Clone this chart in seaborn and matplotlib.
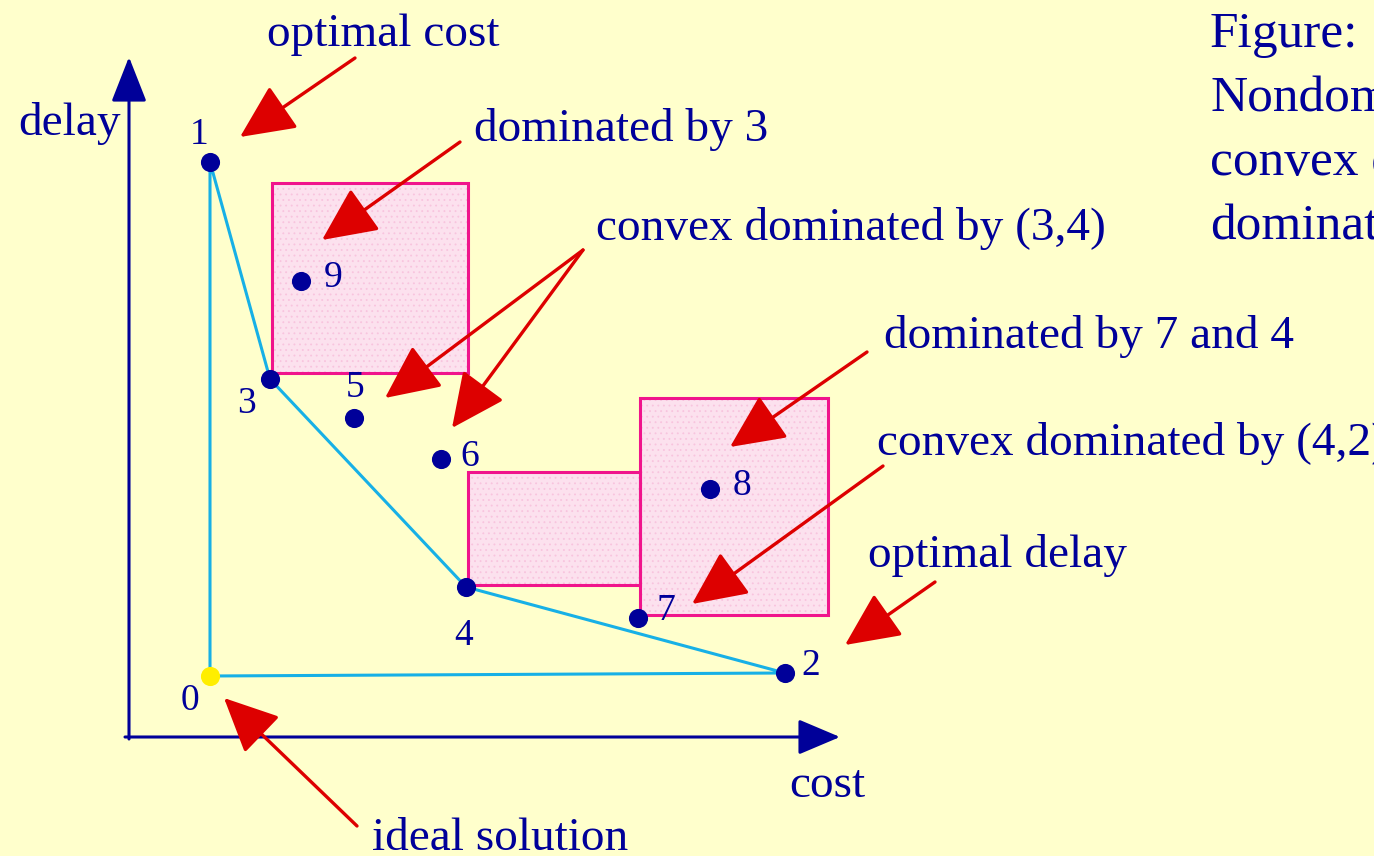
import matplotlib.pyplot as plt
import matplotlib.patches as mpatches
import pandas as pd
import seaborn as sns

# solutions in (cost, delay) units, origin at the axes crossing
labels = ["0", "1", "2", "3", "4", "5", "6", "7", "8", "9"]
cost = [81, 81, 656, 141, 337, 225, 312, 509, 581, 172]
delay = [61, 575, 64, 358, 150, 319, 278, 119, 248, 456]

# convex hull of the nondominated set: 0-1-3-4-2-0
hull = ["0", "1", "3", "4", "2", "0"]

# dominance boxes: (cost_lo, cost_hi, delay_lo, delay_hi)
boxes = [(143, 339, 364, 554), (339, 511, 152, 265), (511, 699, 122, 339)]

BG = "#FFFFCC"
BLUE = "#000099"
RED = "#DD0000"
CYAN = "#17B0E6"
PINK = "#F0148C"

W, H = 1374, 856
OX, OY = 129, 737


def px(x, y):
    # figure pixel (from top-left) -> data units
    return x - OX, OY - y


sns.set_theme(style="white")
plt.rcParams["font.family"] = ["Liberation Serif", "DejaVu Serif"]
plt.rcParams["hatch.color"] = "#F8C4DE"
plt.rcParams["hatch.linewidth"] = 0.6

fig = plt.figure(figsize=(W / 100, H / 100), dpi=100)
fig.set_facecolor(BG)
ax = fig.add_axes([0, 0, 1, 1])
ax.set_facecolor(BG)

# dominance boxes
for c0, c1, d0, d1 in boxes:
    ax.add_patch(mpatches.Rectangle((c0, d0), c1 - c0, d1 - d0,
                                    facecolor="#FCE1EE", edgecolor="#F8C4DE",
                                    hatch="...", lw=0, zorder=1))
    ax.add_patch(mpatches.Rectangle((c0, d0), c1 - c0, d1 - d0,
                                    facecolor="none", edgecolor=PINK,
                                    lw=2.2, zorder=1.5))

df = pd.DataFrame({"label": labels, "cost": cost, "delay": delay})
hull_df = df.set_index("label").loc[hull].reset_index()

sns.lineplot(hull_df, x="cost", y="delay", sort=False, estimator=None,
             color=CYAN, lw=2.2, ax=ax, zorder=2)
sns.scatterplot(df[df.label != "0"], x="cost", y="delay", color=BLUE,
                s=190, linewidth=0, ax=ax, zorder=3)
sns.scatterplot(df[df.label == "0"], x="cost", y="delay", color="#FFEE00",
                s=190, linewidth=0, ax=ax, zorder=3)
ax.set_xlim(-OX, W - OX)
ax.set_ylim(OY - H, OY)
ax.axis("off")

# cost / delay axes with arrow heads
ax.annotate("", xy=px(129, 57), xytext=px(129, 739),
            arrowprops=dict(arrowstyle="-|>,head_length=1.4,head_width=0.55",
                            mutation_scale=20, lw=2.2, color=BLUE,
                            shrinkA=0, shrinkB=0))
ax.annotate("", xy=px(840, 737), xytext=px(125, 737),
            arrowprops=dict(arrowstyle="-|>,head_length=1.3,head_width=0.55",
                            mutation_scale=20, lw=2.2, color=BLUE,
                            shrinkA=0, shrinkB=0))

# point numbers
num_pos = {"0": (190, 710), "1": (199, 144), "2": (811, 675), "3": (246, 413),
           "4": (464, 645), "5": (355, 397), "6": (470, 466), "7": (666, 620),
           "8": (742, 495), "9": (333, 287)}
for lab, (x, y) in num_pos.items():
    ax.text(*px(x, y), lab, color=BLUE, fontsize=27, ha="center",
            va="baseline", zorder=4)

# annotation texts
notes = [
    ("optimal cost", 267, 46),
    ("dominated by 3", 474, 141),
    ("convex dominated by (3,4)", 596, 240),
    ("dominated by 7 and 4", 884, 348),
    ("convex dominated by (4,2)", 877, 455),
    ("optimal delay", 868, 567),
    ("ideal solution", 372, 850),
    ("delay", 18, 135),
    ("cost", 789, 797),
]
for s, x, y in notes:
    ax.text(*px(x, y), s, color=BLUE, fontsize=34, ha="left", va="baseline")

caption = ["Figure:", "Nondominated,", "convex dominated,", "dominated"]
for i, s in enumerate(caption):
    ax.text(*px(1210, 47 + 64 * i), s, color=BLUE, fontsize=37,
            ha="left", va="baseline")

# red arrows: (tail, tip)
arrows = [
    ((355, 58), (240, 137)),
    ((460, 142), (322, 240)),
    ((583, 250), (385, 398)),
    ((583, 250), (452, 428)),
    ((867, 352), (730, 447)),
    ((883, 466), (692, 604)),
    ((935, 582), (845, 645)),
    ((357, 826), (224, 698)),
]
for tail, tip in arrows:
    ax.annotate("", xy=px(*tip), xytext=px(*tail),
                arrowprops=dict(arrowstyle="-|>,head_length=1.7,head_width=0.8",
                                mutation_scale=20, lw=2.4, color=RED,
                                shrinkA=0, shrinkB=0), zorder=5)

fig.savefig("out.png", dpi=100, facecolor=BG)
